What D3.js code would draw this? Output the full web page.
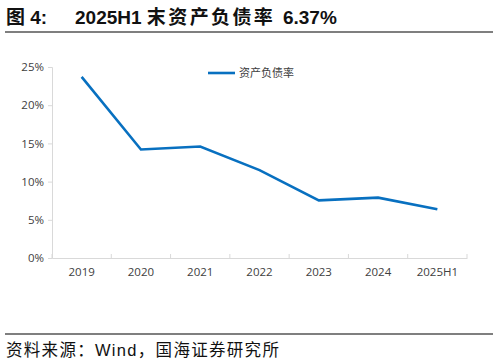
<!DOCTYPE html>
<html>
<head>
<meta charset="utf-8">
<script src="https://cdn.jsdelivr.net/npm/d3@7"></script>
<style>
  body { margin: 0; background: #fff; }
  svg { display: block; }
</style>
</head>
<body>
<svg id="chart"></svg>
<script>
// data
const years = ["2019", "2020", "2021", "2022", "2023", "2024", "2025H1"];
const ratio = [23.7, 14.2, 14.6, 11.5, 7.55, 7.9, 6.37];
const yTicks = [0, 5, 10, 15, 20, 25];

const width = 498, height = 362;
const svg = d3.select("#chart").attr("width", width).attr("height", height);
const cjk = "'Noto Sans CJK SC', 'Noto Sans', sans-serif";
const mixed = "'Liberation Sans', " + cjk;

// title
let title = svg.append("text")
  .attr("y", 24)
  .attr("font-family", mixed)
  .attr("font-weight", "bold")
  .attr("font-size", 19)
  .attr("fill", "#111");
title.append("tspan").attr("x", 6).text("图 4:");
title.append("tspan").attr("x", 75).text("2025H1 ");
title.append("tspan").attr("letter-spacing", 2.4).text("末资产负债率 ");
title.append("tspan").text("6.37%");

svg.append("line").attr("x1", 5).attr("x2", 493).attr("y1", 32).attr("y2", 32)
  .attr("stroke", "#555").attr("stroke-width", 1.5);

// scales
let x = d3.scaleBand().domain(years).range([52, 467]);
let y = d3.scaleLinear().domain([0, 25]).range([258, 67]);

// y axis
let yAxis = svg.append("g")
  .attr("transform", "translate(52,0)")
  .call(d3.axisLeft(y).tickValues(yTicks).tickFormat(d => d + "%").tickSize(4).tickPadding(4));
yAxis.select(".domain").attr("stroke", "#d9d9d9");
yAxis.selectAll(".tick line").attr("stroke", "#d9d9d9");
yAxis.selectAll("text").attr("font-family", "'Open Sans', sans-serif").attr("font-size", 11.5).attr("fill", "#404040");

// x axis
let xAxis = svg.append("g")
  .attr("transform", "translate(0,258)")
  .call(d3.axisBottom(x).tickSizeOuter(0).tickSize(0).tickPadding(10));
xAxis.select(".domain").attr("stroke", "#d9d9d9");
xAxis.selectAll("text").attr("font-family", "'Open Sans', sans-serif").attr("font-size", 11.5).attr("fill", "#404040");
// boundary ticks between categories
xAxis.selectAll(".sep")
  .data(years.map(d => x(d)).concat([x.range()[1]]))
  .enter().append("line")
  .attr("class", "sep")
  .attr("x1", d => d).attr("x2", d => d)
  .attr("y1", 0).attr("y2", -4)
  .attr("stroke", "#d9d9d9");

// line
const line = d3.line()
  .x((d, i) => x(years[i]) + x.bandwidth() / 2)
  .y(d => y(d));
svg.append("path")
  .datum(ratio)
  .attr("d", line)
  .attr("fill", "none")
  .attr("stroke", "#0870c0")
  .attr("stroke-width", 2.6);

// legend
svg.append("line").attr("x1", 208).attr("x2", 235).attr("y1", 73).attr("y2", 73)
  .attr("stroke", "#0870c0").attr("stroke-width", 2.6);
svg.append("text").attr("x", 239).attr("y", 77)
  .attr("font-family", cjk).attr("font-size", 11).attr("fill", "#404040")
  .text("资产负债率");

// footer
svg.append("line").attr("x1", 5).attr("x2", 493).attr("y1", 334).attr("y2", 334)
  .attr("stroke", "#555").attr("stroke-width", 1.5);
svg.append("text").attr("x", 6).attr("y", 356)
  .attr("font-family", mixed)
  .attr("font-size", 16.5).attr("letter-spacing", 1.3).attr("fill", "#111")
  .text("资料来源：Wind，国海证券研究所");
</script>
</body>
</html>
